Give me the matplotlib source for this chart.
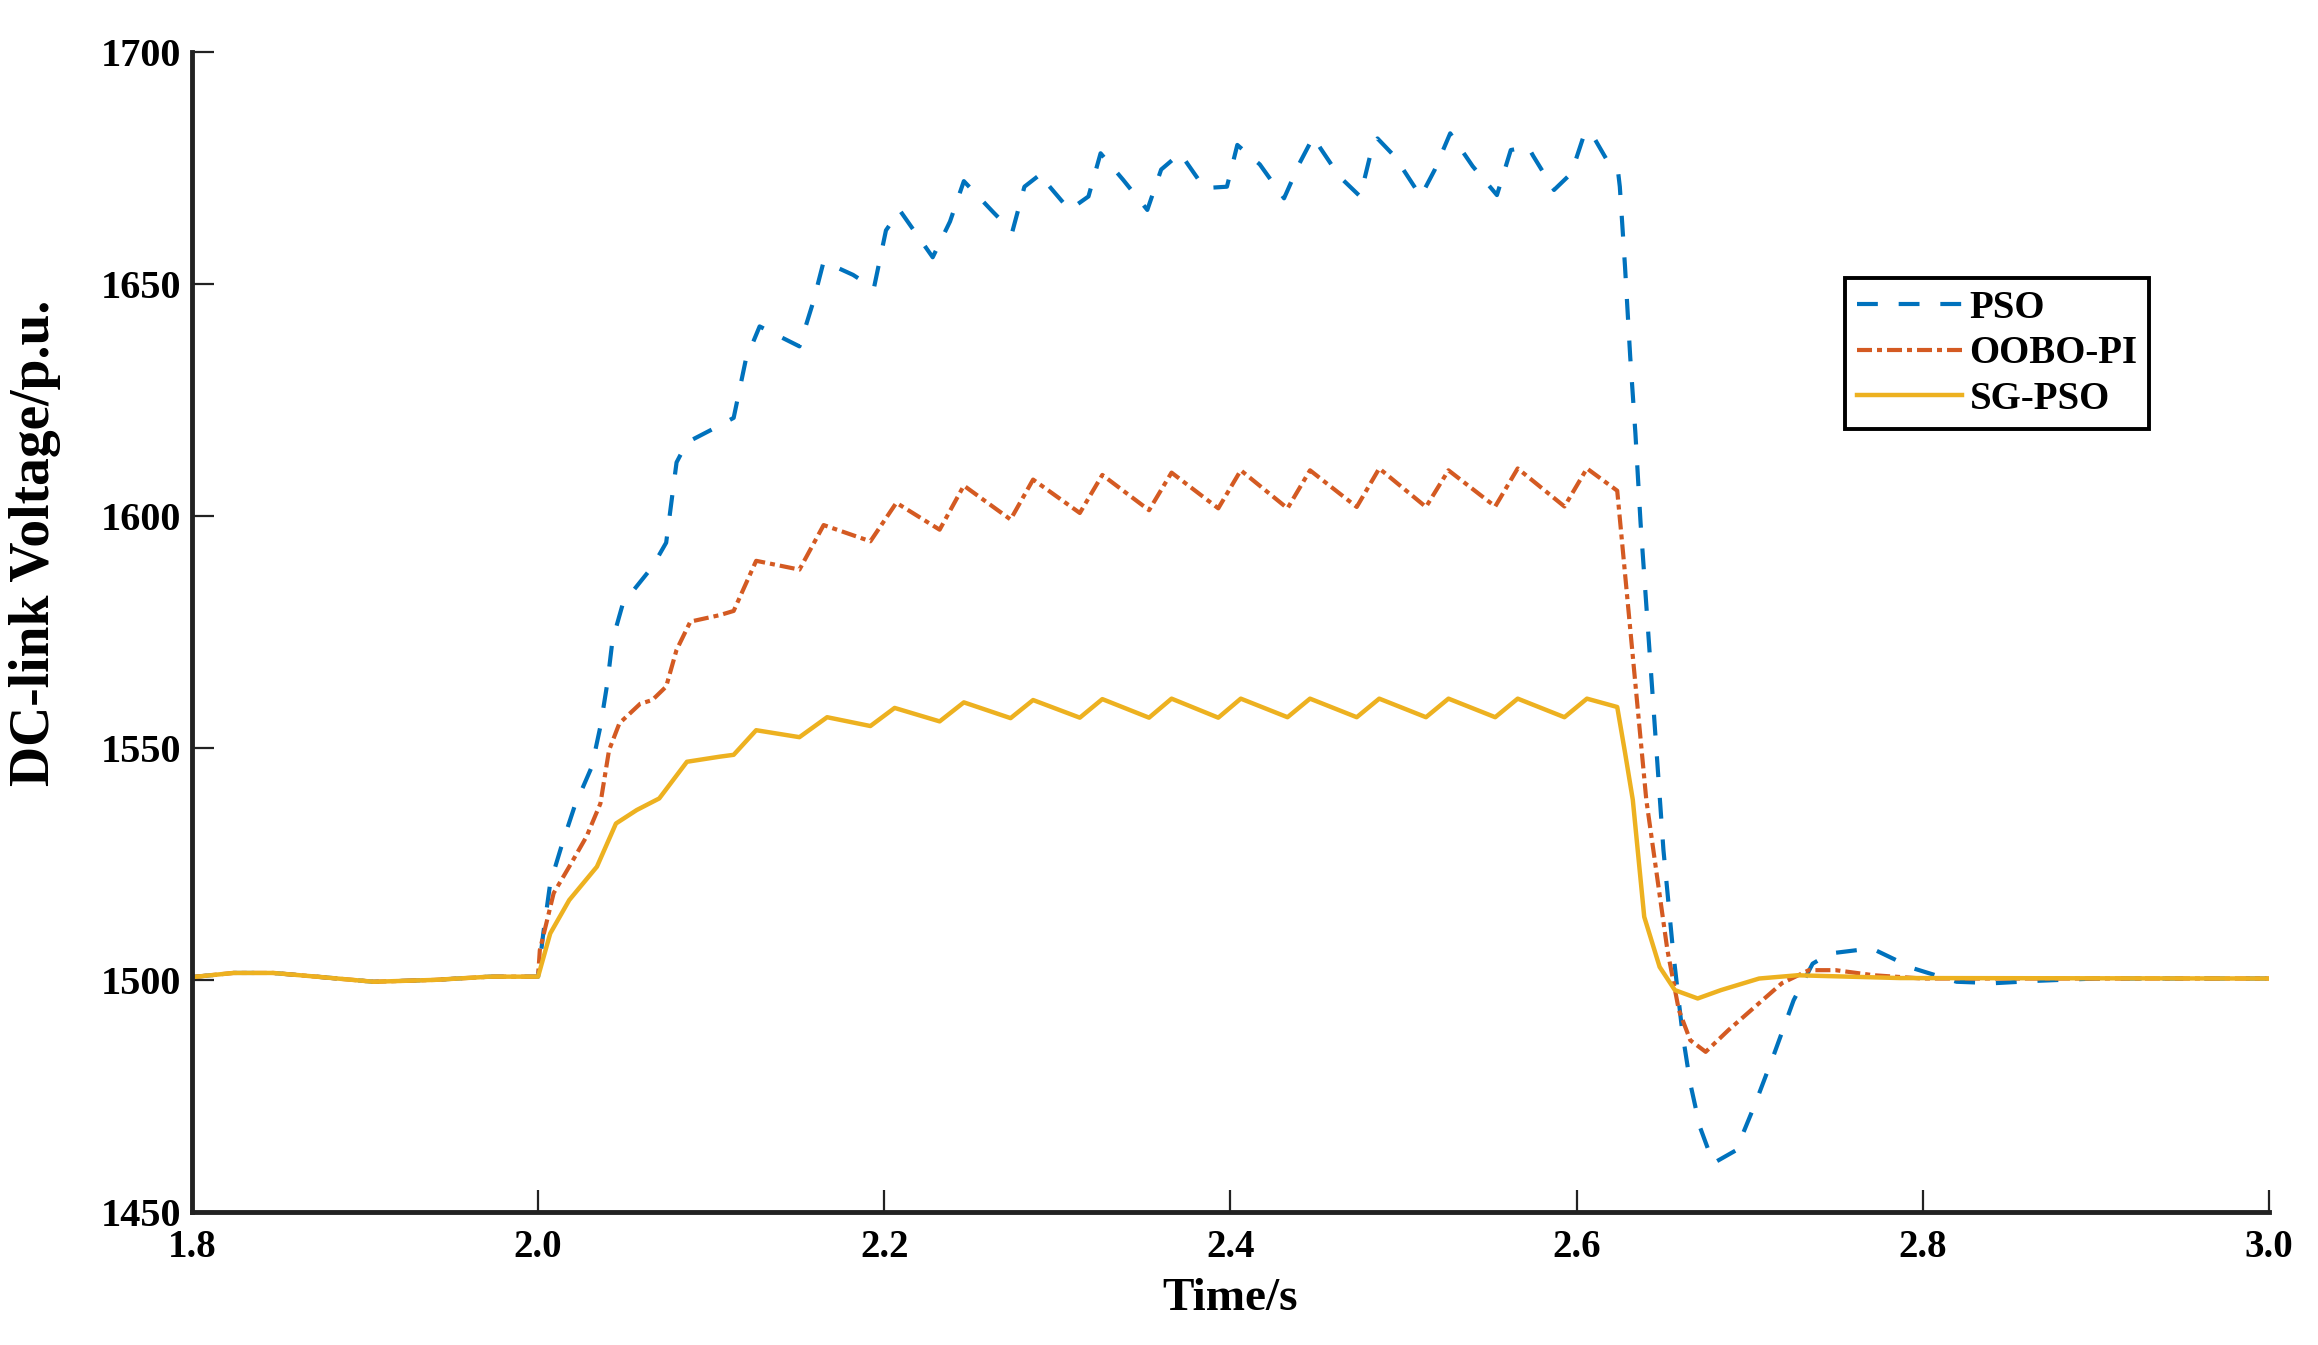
import matplotlib
matplotlib.use('Agg')
import matplotlib.pyplot as plt

plt.rcParams['font.family'] = ['Liberation Serif', 'DejaVu Serif']
plt.rcParams['font.weight'] = 'bold'

# 공통 구간 (t < 2.0 s, 세 곡선이 겹침)
t_base = [1.800, 1.824, 1.847, 1.875, 1.905, 1.940, 1.972, 2.000]
v_base = [1500.6, 1501.5, 1501.5, 1500.6, 1499.6, 1500.0, 1500.7, 1500.7]

# PSO
pso_t = [2.003, 2.007, 2.014, 2.021, 2.031, 2.036, 2.040, 2.043, 2.049, 2.066, 2.074, 2.080, 2.086, 2.101,
         2.113, 2.120, 2.128, 2.151, 2.159, 2.165, 2.182, 2.194, 2.201, 2.209, 2.228, 2.238, 2.246,
         2.263, 2.274, 2.281, 2.291, 2.294, 2.307, 2.318, 2.325, 2.338, 2.352, 2.360, 2.371, 2.385,
         2.398, 2.404, 2.417, 2.431,
         2.440, 2.448, 2.452, 2.463, 2.475, 2.482, 2.485, 2.495, 2.510, 2.518, 2.527, 2.540, 2.554,
         2.562, 2.572, 2.575, 2.587, 2.597, 2.604, 2.608, 2.617, 2.624,
         2.625, 2.628, 2.631, 2.634, 2.637, 2.6502, 2.6557, 2.6612, 2.6657, 2.6712, 2.679, 2.6922,
         2.7033, 2.7143, 2.7254, 2.7364, 2.7464, 2.7705, 2.7945, 2.8196, 2.8417, 2.8658, 2.900, 3.000]
pso_v = [1510.0, 1520.8, 1529.4, 1537.3, 1545.9, 1554.6, 1563.9, 1573.2, 1581.1, 1589.0, 1594.2, 1611.5, 1615.8, 1618.7,
         1621.1, 1633.6, 1640.8, 1636.5, 1646.1, 1654.8, 1651.9, 1649.0, 1661.5, 1665.8, 1655.7, 1663.4, 1672.1,
         1665.4, 1661.2, 1670.9, 1673.8, 1671.6, 1665.9, 1668.8, 1678.1, 1672.4, 1665.9, 1674.6, 1678.1, 1670.6,
         1670.9, 1679.9, 1675.7, 1668.4,
         1676.0, 1681.7, 1679.2, 1673.1, 1668.8, 1679.5, 1681.3, 1677.4, 1668.8, 1674.5, 1682.4, 1675.3, 1669.1,
         1678.8, 1679.5, 1677.5, 1670.2, 1673.8, 1681.7, 1682.8, 1677.0, 1674.1,
         1670.9, 1653.7, 1634.3, 1617.8, 1598.4, 1528.0, 1506.4, 1488.5, 1477.7, 1468.4, 1460.5, 1463.3,
         1473.4, 1484.2, 1495.6, 1503.5, 1505.7, 1506.8, 1502.5, 1499.6, 1499.3, 1499.8, 1500.3, 1500.3]

# OOBO-PI
oobo_t = [2.001, 2.009, 2.018, 2.028, 2.036, 2.041, 2.047, 2.059, 2.066, 2.074, 2.080, 2.088, 2.105, 2.113,
          2.126, 2.151, 2.165, 2.192, 2.207, 2.232, 2.246,
          2.273, 2.286, 2.313, 2.326, 2.353, 2.366, 2.393, 2.406, 2.433, 2.446, 2.473, 2.486, 2.513, 2.526,
          2.553, 2.566, 2.593, 2.606,
          2.6235, 2.6403, 2.6525, 2.6591, 2.6657, 2.6746, 2.6878, 2.7055, 2.7187, 2.7342, 2.7497, 2.7718,
          2.800, 3.000]
oobo_v = [1506.4, 1518.7, 1524.4, 1530.9, 1538.0, 1549.5, 1555.3, 1559.5, 1560.3, 1563.2, 1571.1, 1577.2, 1578.6, 1579.5,
          1590.3, 1588.4, 1598.0, 1594.5, 1602.8, 1597.0, 1606.5,
          1599.2, 1607.8, 1600.6, 1608.8, 1601.2, 1609.3, 1601.6, 1609.8, 1601.6, 1609.8, 1601.9, 1610.2, 1601.9, 1609.8,
          1602.0, 1610.2, 1602.0, 1610.2,
          1605.4, 1538.8, 1506.4, 1493.5, 1487.0, 1484.5, 1489.2, 1495.0, 1499.3, 1502.1, 1502.1, 1501.0,
          1500.3, 1500.3]

# SG-PSO
sg_t = [2.007, 2.018, 2.034, 2.045, 2.057, 2.070, 2.086, 2.105, 2.113, 2.126, 2.151, 2.167, 2.192, 2.206,
        2.232, 2.246,
        2.273, 2.286, 2.313, 2.326, 2.353, 2.366, 2.393, 2.406, 2.433, 2.446, 2.473, 2.486, 2.513, 2.526,
        2.553, 2.566, 2.593, 2.606,
        2.6235, 2.628, 2.6325, 2.6391, 2.648, 2.6568, 2.670, 2.6834, 2.7055, 2.7276, 2.787, 3.000]
sg_v = [1510.0, 1517.2, 1524.4, 1533.7, 1536.6, 1539.1, 1547.0, 1548.1, 1548.5, 1553.8, 1552.3, 1556.6, 1554.7, 1558.6,
        1555.7, 1559.8,
        1556.4, 1560.3, 1556.5, 1560.5, 1556.5, 1560.6, 1556.5, 1560.6, 1556.6, 1560.6, 1556.6, 1560.6, 1556.6, 1560.6,
        1556.6, 1560.6, 1556.6, 1560.6,
        1558.8, 1549.0, 1538.8, 1513.6, 1502.8, 1497.8, 1496.0, 1497.8, 1500.3, 1501.0, 1500.4, 1500.3]

x_ticks = [1.8, 2.0, 2.2, 2.4, 2.6, 2.8, 3.0]
y_ticks = [1450, 1500, 1550, 1600, 1650, 1700]

fig = plt.figure(figsize=(23.18, 13.45), dpi=100)
ax = fig.add_axes([0.0828, 0.0989, 0.8960, 0.8627])

ax.plot(t_base + pso_t, v_base + pso_v, color='#0072BD', lw=3.0,
        linestyle=(0, (5, 5)), label='PSO')
ax.plot(t_base + oobo_t, v_base + oobo_v, color='#D45A22', lw=3.0,
        linestyle=(0, (3.6, 1.2, 1.2, 1.2)), label='OOBO-PI')
ax.plot(t_base + sg_t, v_base + sg_v, color='#EDB120', lw=3.2,
        linestyle='-', label='SG-PSO')

ax.set_xlim(1.8, 3.0)
ax.set_ylim(1450, 1700)
ax.set_xticks(x_ticks)
ax.set_xticklabels(['%.1f' % x for x in x_ticks])
ax.set_yticks(y_ticks)

for side in ['top', 'right']:
    ax.spines[side].set_visible(False)
for side in ['left', 'bottom']:
    ax.spines[side].set_linewidth(3.5)
    ax.spines[side].set_color('#222222')

ax.tick_params(axis='both', direction='in', length=16, width=1.6, color='#222222')
ax.tick_params(axis='x', labelsize=28, pad=12)
ax.tick_params(axis='y', labelsize=29, pad=8)

ax.set_xlabel('Time/s', fontsize=34, fontweight='bold')
ax.set_ylabel('DC-link Voltage/p.u.', fontsize=40, fontweight='bold')
ax.xaxis.set_label_coords(0.5, -0.057)
ax.yaxis.set_label_coords(-0.063, 0.577)

leg = ax.legend(loc='upper left', bbox_to_anchor=(0.796, 0.805),
                handlelength=2.7, handletextpad=0.2, labelspacing=0.22,
                borderpad=0.3, borderaxespad=0, fancybox=False, framealpha=1,
                edgecolor='black', prop={'weight': 'bold', 'size': 28})
leg.get_frame().set_linewidth(2.8)

fig.savefig('out.png', dpi=100)
